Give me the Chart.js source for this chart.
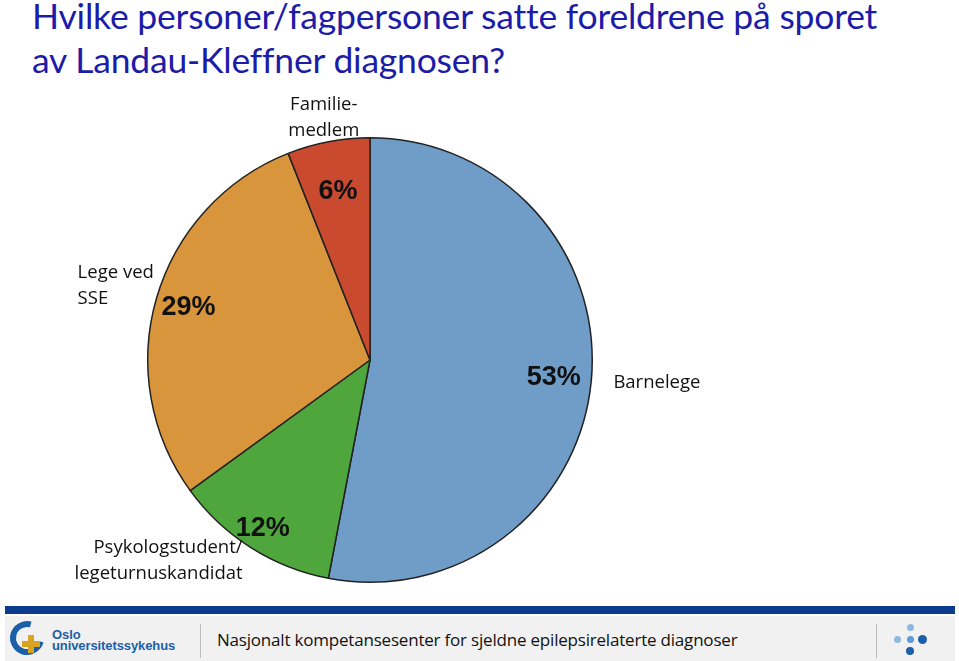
<!DOCTYPE html>
<html><head><meta charset="utf-8">
<script src="https://cdn.jsdelivr.net/npm/chart.js@4"></script>
<style>
html,body{margin:0;padding:0;background:#fff;width:959px;height:661px;overflow:hidden;position:relative;font-family:Lato,"Open Sans",sans-serif}
#title{position:absolute;left:32px;top:-6px;font-family:Lato,sans-serif;font-size:35.5px;line-height:44px;color:#1c1ca8;letter-spacing:-0.2px}
#wrap{position:absolute;left:0;top:90px;width:959px;height:520px}
#bar{position:absolute;left:5px;top:606px;width:950px;height:8px;background:#0d3b8e}
#foot{position:absolute;left:5px;top:616px;width:950px;height:45px;background:#f1f1f1}
#foot .t{position:absolute;left:212px;top:12px;font-size:17px;color:#111;font-family:"Open Sans",sans-serif;letter-spacing:-0.2px}
#foot .sep1{position:absolute;left:195px;top:8px;width:1px;height:34px;background:#bbb}
#foot .sep2{position:absolute;left:871px;top:8px;width:1px;height:34px;background:#bbb}
#foot .logo{position:absolute;left:47px;top:13px;font-size:13px;line-height:11px;color:#1a5fa8;font-weight:bold;font-family:"Liberation Sans",sans-serif;letter-spacing:-0.1px}
#foot .ring{position:absolute;left:5px;top:5px;width:22px;height:22px;border:6px solid #1a5fa8;border-radius:50%;border-right-color:transparent;transform:rotate(-30deg)}
#foot .plus{position:absolute;left:17px;top:19px;width:18px;height:18px;}
#foot .plus:before{content:"";position:absolute;left:6px;top:0;width:6px;height:18px;background:#d9a520}
#foot .plus:after{content:"";position:absolute;left:0;top:6px;width:18px;height:6px;background:#d9a520}
.dot{position:absolute;border-radius:50%}
</style></head>
<body>
<div id="title">Hvilke personer/fagpersoner satte foreldrene på sporet<br>av Landau-Kleffner diagnosen?</div>
<div id="wrap"><canvas id="c" width="959" height="520"></canvas></div>
<div id="bar"></div>
<div id="foot">
  <div class="ring"></div><div class="plus"></div>
  <div class="logo">Oslo<br>universitetssykehus</div>
  <div class="sep1"></div>
  <div class="t">Nasjonalt kompetansesenter for sjeldne epilepsirelaterte diagnoser</div>
  <div class="sep2"></div>
  <div class="dot" style="left:902px;top:8px;width:7px;height:7px;background:#8fb8e0"></div>
  <div class="dot" style="left:889px;top:20px;width:7px;height:7px;background:#8fb8e0"></div>
  <div class="dot" style="left:902px;top:20px;width:7px;height:7px;background:#5d9bd6"></div>
  <div class="dot" style="left:913px;top:19px;width:9px;height:9px;background:#1a5fa8"></div>
  <div class="dot" style="left:901px;top:31px;width:8px;height:8px;background:#1a5fa8"></div>
</div>
<script>
const categories = ["Barnelege", "Psykologstudent/\nlegeturnuskandidat", "Lege ved\nSSE", "Familie-\nmedlem"];
const values = [53, 12, 29, 6];
const percentLabels = ["53%", "12%", "29%", "6%"];
const colors = ["#6f9dc8", "#4ea63c", "#d8953c", "#c94a2f"];

// label placement: radius factor for %, radius factor for name, name alignment, name vertical nudge
const pctFactor = [0.83, 0.90, 0.85, 0.77];
const nameFactor = [1.10, 1.07, 1.37, 1.11];
const nameAlign = ["left", "right", "left", "center"];
const nameNudge = [0, 0, 11, 0];

const labelPlugin = {
  id: 'labels',
  afterDatasetsDraw(chart) {
    const ctx = chart.ctx;
    const meta = chart.getDatasetMeta(0);
    meta.data.forEach((arc, i) => {
      const p = arc.getProps(['x','y','startAngle','endAngle','outerRadius'], true);
      const mid = (p.startAngle + p.endAngle) / 2;
      const r = p.outerRadius;
      ctx.save();
      ctx.font = 'bold 27px "Liberation Sans", Arial, sans-serif';
      ctx.fillStyle = '#111';
      ctx.textAlign = 'center';
      ctx.textBaseline = 'middle';
      ctx.fillText(percentLabels[i], p.x + Math.cos(mid) * r * pctFactor[i], p.y + Math.sin(mid) * r * pctFactor[i]);
      ctx.font = '18.5px "Open Sans", sans-serif';
      ctx.textAlign = nameAlign[i];
      const lines = categories[i].split('\n');
      const nx = p.x + Math.cos(mid) * r * nameFactor[i];
      const ny = p.y + Math.sin(mid) * r * nameFactor[i] + nameNudge[i];
      const lh = 26;
      lines.forEach((ln, k) => {
        ctx.fillText(ln, nx, ny + (k - (lines.length - 1) / 2) * lh);
      });
      ctx.restore();
    });
  }
};

new Chart(document.getElementById('c'), {
  type: 'pie',
  data: {
    labels: categories,
    datasets: [{ data: values, backgroundColor: colors, borderColor: '#222', borderWidth: 1.5 }]
  },
  options: {
    responsive: false,
    animation: false,
    layout: { padding: { left: 147, right: 366, top: 47, bottom: 27 } },
    plugins: { legend: { display: false }, tooltip: { enabled: false } }
  },
  plugins: [labelPlugin]
});
</script>
</body></html>
